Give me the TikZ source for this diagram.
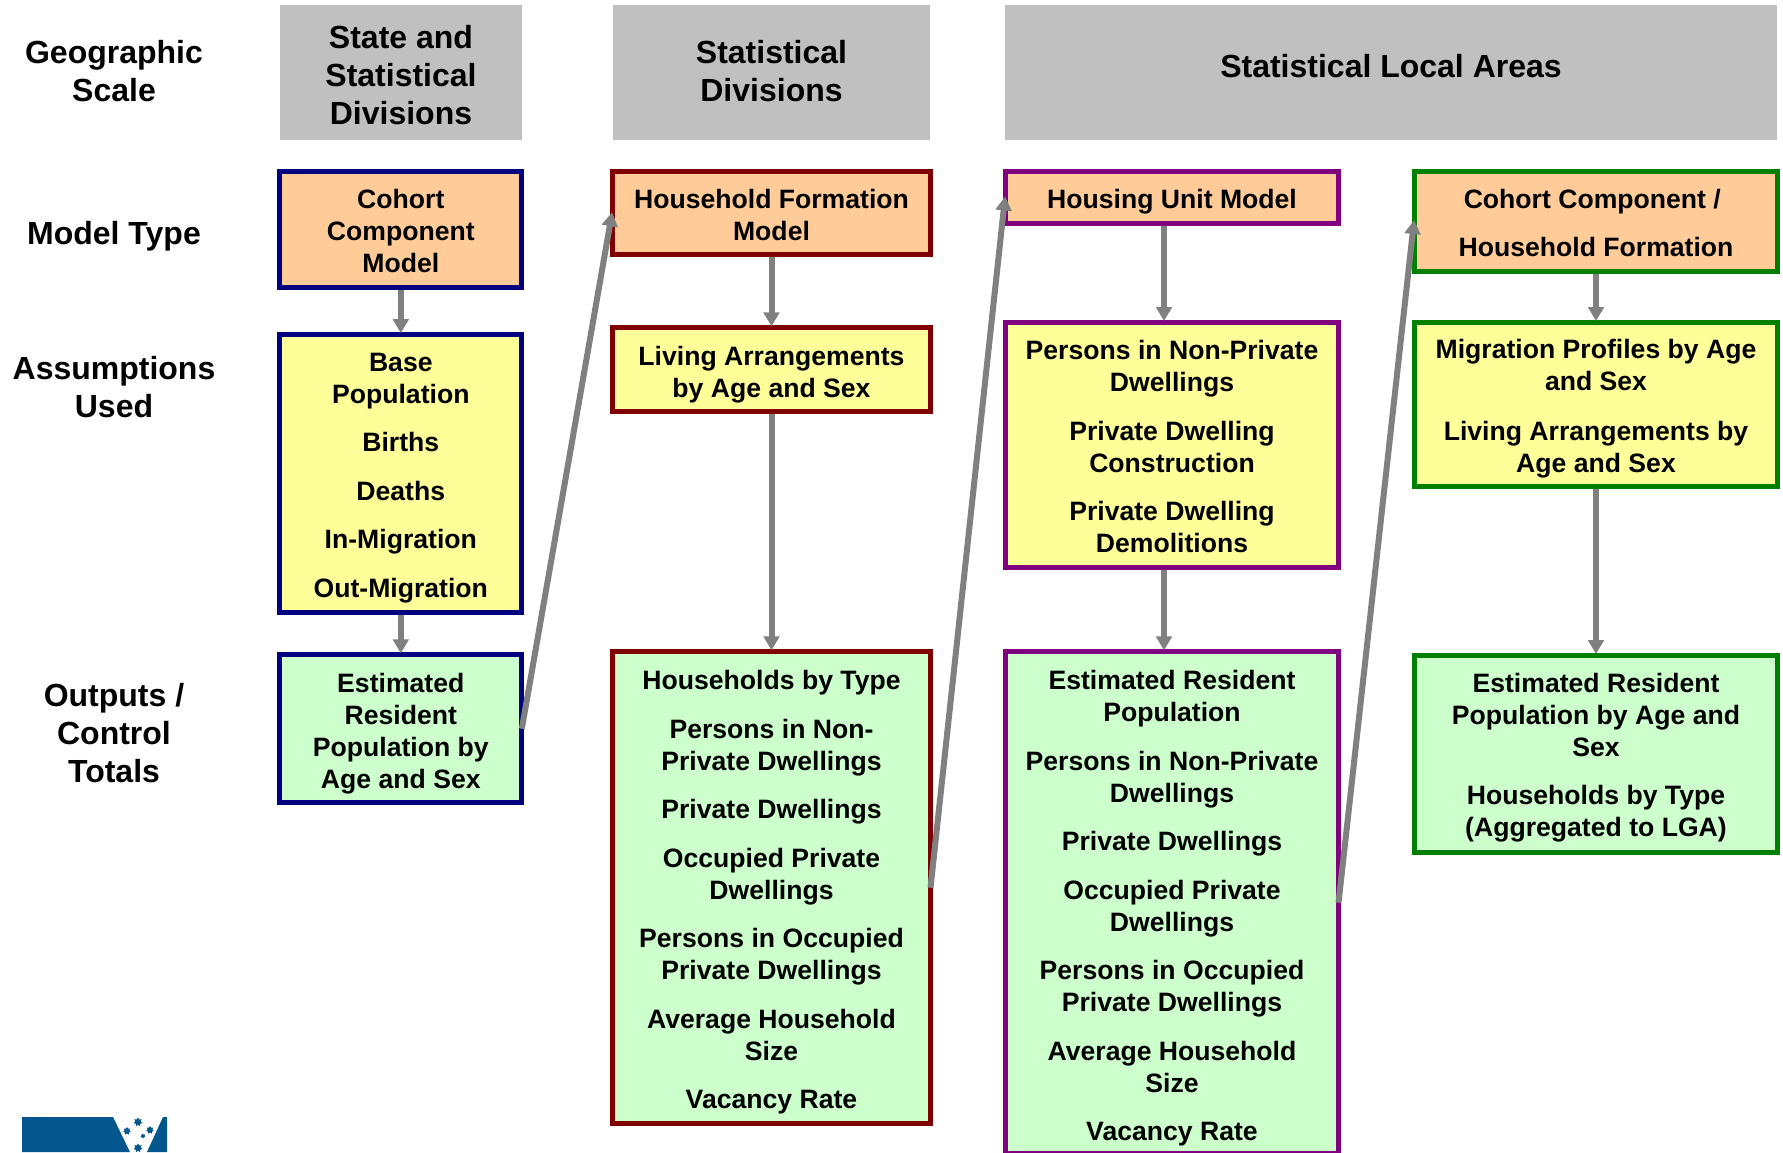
\documentclass[tikz,border=0pt]{standalone}
\usepackage{fontspec}
\setmainfont{Liberation Sans}
\usetikzlibrary{arrows.meta,shapes.geometric}
\definecolor{navyc}{HTML}{000080}
\definecolor{maroonc}{HTML}{800000}
\definecolor{purplec}{HTML}{800080}
\definecolor{greenc}{HTML}{008000}
\definecolor{orangef}{HTML}{FFCC99}
\definecolor{yellowf}{HTML}{FFFF99}
\definecolor{greenf}{HTML}{CCFFCC}
\definecolor{headf}{HTML}{C0C0C0}
\definecolor{arrowc}{HTML}{808080}
\definecolor{logoc}{HTML}{04568F}
\tikzset{
  x=1pt,y=-1pt,
  boxtxt/.style={font=\bfseries\fontsize{26.6}{32}\selectfont,align=center,inner sep=0pt,text=black},
  box/.style={boxtxt,draw=#1,line width=5pt,rectangle},
  side/.style={font=\bfseries\fontsize{32}{38}\selectfont,align=center,inner sep=0pt,text=black},
  headbox/.style={side,fill=headf,rectangle,minimum height=135pt},
  link/.style={draw=arrowc,line width=6pt,shorten >=-1pt,-{Triangle[width=15.5pt,length=14pt]}},
  logostar/.style={star,star points=7,star point ratio=1.6,fill=logoc,inner sep=0pt}
}
\newcommand{\gp}{\\[16.5pt]}
% push a text block down by #1 pt (a taller first line, the block stays centred)
\newcommand{\dn}[1]{\rule{0pt}{\dimexpr 19.4pt+#1pt*2\relax}}
\newcommand{\dnb}[1]{\rule{0pt}{\dimexpr 23.4pt+#1pt*2\relax}}
\begin{document}
\begin{tikzpicture}
\clip (0,0) rectangle (1783,1152);
% left labels
\node[side] (lgeo) at (114,71) {Geographic\\Scale};
\node[side] (lmod) at (114,236.5) {Model Type};
\node[side] (lass) at (114,387.5) {Assumptions\\Used};
\node[side] (lout) at (114,733.5) {Outputs /\\Control\\Totals};
% headers
\node[headbox,minimum width=242pt] (h1) at (401,72.5) {\dnb{2}State and\\Statistical\\Divisions};
\node[headbox,minimum width=317pt] (h2) at (771.5,72.5) {Statistical\\Divisions\rule[-2.2pt]{0pt}{0pt}};
\node[headbox,minimum width=772pt] (h3) at (1391,72.5) {\raisebox{-5.4pt}[0pt][0pt]{Statistical Local Areas}};
% column 1
\node[box=navyc,fill=orangef,minimum width=242pt,minimum height=116pt] (c1) at (400.8,229.5) {\dn{1}Cohort\\Component\\Model};
\node[box=navyc,fill=yellowf,minimum width=242pt,minimum height=278pt] (a1) at (400.8,473.6) {\dn{3.8}Base\\Population\gp Births\gp Deaths\gp In-Migration\gp Out-Migration};
\node[box=navyc,fill=greenf,minimum width=242pt,minimum height=148pt] (o1) at (400.8,728.8) {\dn{5}Estimated\\Resident\\Population by\\Age and Sex};
% column 2
\node[box=maroonc,fill=orangef,minimum width=318pt,minimum height=83.3pt] (c2) at (771.5,213.2) {\dn{1.3}Household Formation\\Model};
\node[box=maroonc,fill=yellowf,minimum width=318pt,minimum height=84pt] (a2) at (771.5,369.8) {\dn{4.7}Living Arrangements\\by Age and Sex};
\node[box=maroonc,fill=greenf,minimum width=318pt,minimum height=471.7pt] (o2) at (771.5,887.7) {\dn{4.4}Households by Type\gp Persons in Non-\\Private Dwellings\gp Private Dwellings\gp Occupied Private\\Dwellings\gp Persons in Occupied\\Private Dwellings\gp Average Household\\Size\gp Vacancy Rate};
% column 3
\node[box=purplec,fill=orangef,minimum width=333pt,minimum height=51.7pt] (c3) at (1172,197.4) {\dn{4.3}Housing Unit Model};
\node[box=purplec,fill=yellowf,minimum width=333pt,minimum height=245pt] (a3) at (1172,445) {\dn{1.5}Persons in Non-Private\\Dwellings\gp Private Dwelling\\Construction\gp Private Dwelling\\Demolitions};
\node[box=purplec,fill=greenf,minimum width=333pt,minimum height=501.7pt] (o3) at (1172,902.7) {\dn{5.6}Estimated Resident\\Population\gp Persons in Non-Private\\Dwellings\gp Private Dwellings\gp Occupied Private\\Dwellings\gp Persons in Occupied\\Private Dwellings\gp Average Household\\Size\gp Vacancy Rate};
% column 4
\node[box=greenc,fill=orangef,minimum width=363pt,minimum height=100pt] (c4) at (1596,221) {\dn{1.8}Cohort Component /\kern7.4pt\gp Household Formation};
\node[box=greenc,fill=yellowf,minimum width=363pt,minimum height=164.3pt] (a4) at (1596,404.7) {\dn{3.7}Migration Profiles by Age\\and Sex\\[17.5pt]Living Arrangements by\\Age and Sex};
\node[box=greenc,fill=greenf,minimum width=363pt,minimum height=197pt] (o4) at (1596,754) {\dn{3.5}Estimated Resident\\Population by Age and\\Sex\gp Households by Type\\(Aggregated to LGA)};
% connectors
\draw[link] (c1.south) -- (a1.north);
\draw[link] (a1.south) -- (o1.north);
\draw[link] (c2.south) -- (a2.north);
\draw[link] (a2.south) -- (o2.north);
\draw[link] ([xshift=-8pt]c3.south) -- ([xshift=-8pt]a3.north);
\draw[link] ([xshift=-8pt]a3.south) -- ([xshift=-8pt]o3.north);
\draw[link] (c4.south) -- (a4.north);
\draw[link] (a4.south) -- (o4.north);
\draw[link] ([xshift=-2.5pt]o1.east) -- ([xshift=2pt]c2.west);
\draw[link] ([xshift=-2.5pt]o2.east) -- ([xshift=2pt]c3.west);
\draw[link] ([xshift=-2.5pt]o3.east) -- ([xshift=2pt]c4.west);
% logo
\fill[logoc] (22,1117) -- (113,1117) -- (130,1152) -- (22,1152) -- cycle;
\fill[logoc] (163,1117) -- (167,1117) -- (167,1152) -- (147,1152) -- cycle;
\node[logostar,minimum size=9pt] (s1) at (138,1122) {};
\node[logostar,minimum size=8pt] (s2) at (127,1131) {};
\node[logostar,minimum size=8pt] (s3) at (150,1130) {};
\node[logostar,minimum size=5pt] (s4) at (143,1136) {};
\node[logostar,minimum size=9pt] (s5) at (138,1148) {};
\end{tikzpicture}
\end{document}
